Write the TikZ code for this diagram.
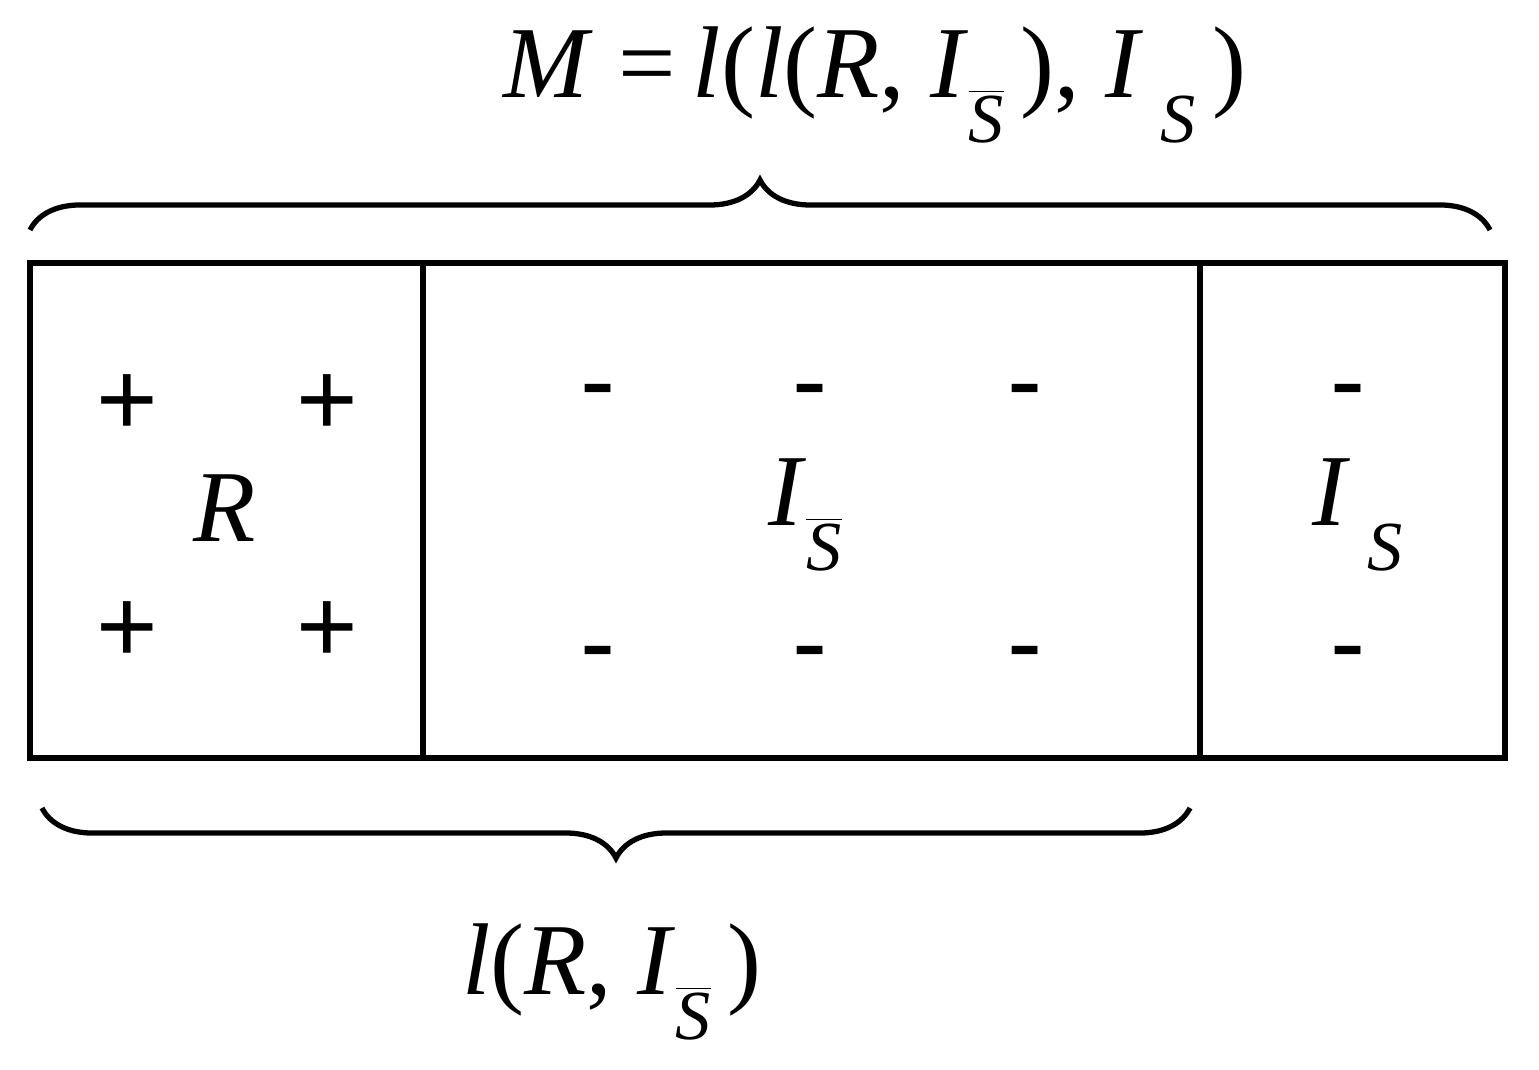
\documentclass[tikz,border=0pt]{standalone}
\usepackage{fontspec}
\setmainfont{Liberation Serif}
\newfontfamily\signfont{Liberation Sans}
\usetikzlibrary{decorations.pathreplacing}
\newcommand{\Sbar}{\raisebox{-0.45em}{\fontsize{20}{20}\selectfont$\overline{\mbox{\textit{S}}}$}}
\newcommand{\Ss}{\raisebox{-0.45em}{\fontsize{20}{20}\selectfont\textit{S}}}
\tikzset{
    sign/.style={font=\signfont\fontsize{30}{30}\selectfont},
    lbl/.style={font=\fontsize{29}{29}\selectfont},
    part/.style={line width=1.5pt},
    brc/.style={line width=1.5pt, decoration={brace, amplitude=0.5cm}, decorate}
}
\begin{document}
\begin{tikzpicture}[x=0.01cm, y=-0.01cm]
  \useasboundingbox (0,0) rectangle (1539,1070);
  % three parts of the box
  \draw [part] (30,263) rectangle (423,758);
  \draw [part] (423,263) rectangle (1200,758);
  \draw [part] (1200,263) rectangle (1505,758);
  % braces
  \coordinate (ta) at (30,230);
  \coordinate (tb) at (1490,230);
  \coordinate (ba) at (42,808);
  \coordinate (bb) at (1190,808);
  \draw [brc] (ta) -- (tb);
  \draw [brc] (bb) -- (ba);
  % signs
  \foreach \x in {127,327} {
    \node [sign] at (\x,405) {+};
    \node [sign] at (\x,632) {+};
  }
  \foreach \x in {598,810,1025,1348} {
    \node [sign] at (\x,400) {-};
    \node [sign] at (\x,662) {-};
  }
  % labels
  \node [lbl] (r) at (225,508) {\textit{R}};
  \node [lbl] (is) at (805,515) {\textit{I}\Sbar};
  \node [lbl] (i) at (1358,515) {\textit{I}\,\Ss};
  \node [lbl] (top) at (875,85) {\textit{M} =\,\textit{l}(\textit{l}(\textit{R}, \textit{I}\Sbar\,), \textit{I}\,\Ss\,)};
  \node [lbl] (bot) at (612,982) {\textit{l}(\textit{R}, \textit{I}\Sbar\,)};
\end{tikzpicture}
\end{document}
